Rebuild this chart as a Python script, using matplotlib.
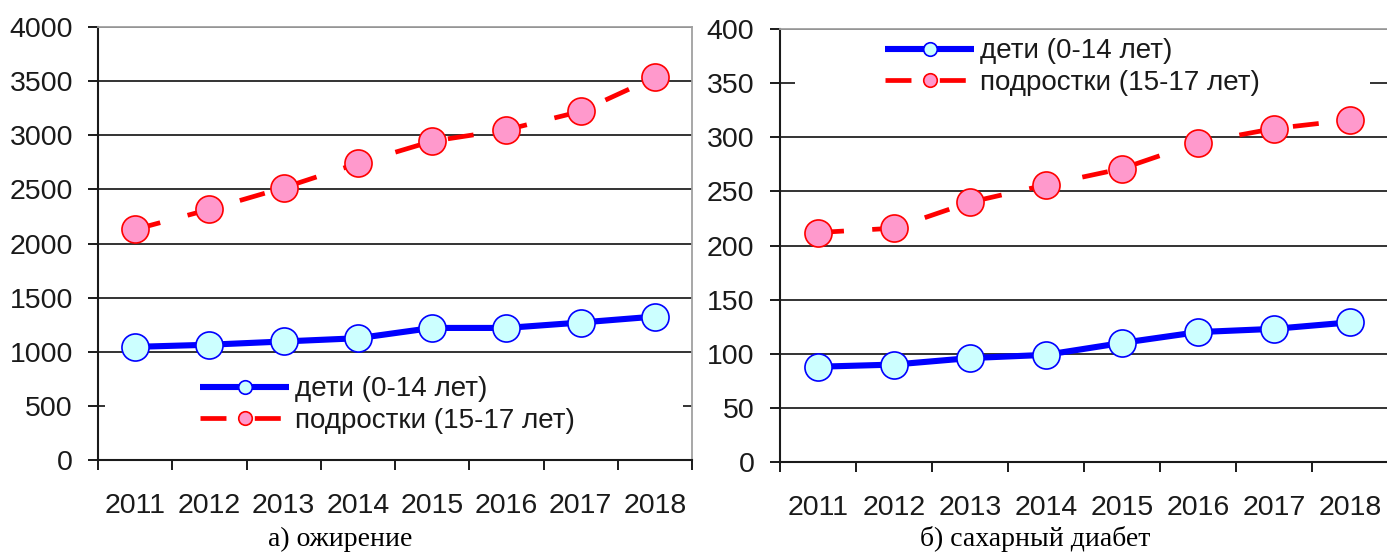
import matplotlib
matplotlib.use("Agg")
import matplotlib.pyplot as plt
from matplotlib.patches import Rectangle

plt.rcParams['font.family'] = ['Liberation Sans', 'DejaVu Sans']

years = [2011, 2012, 2013, 2014, 2015, 2016, 2017, 2018]

# а) ожирение
obesity_children = [1045, 1065, 1095, 1125, 1220, 1220, 1270, 1325]
obesity_teens = [2130, 2315, 2515, 2740, 2945, 3050, 3220, 3535]

# б) сахарный диабет
diabetes_children = [88, 90, 96, 99, 110, 120, 123, 129]
diabetes_teens = [212, 216, 240, 256, 271, 295, 308, 316]

label_children = "дети (0-14 лет)"
label_teens = "подростки (15-17 лет)"
captions = ["а) ожирение", "б) сахарный диабет"]

W, H = 1387, 554
fig = plt.figure(figsize=(W / 100, H / 100), dpi=100)

ax1 = fig.add_axes([98 / W, 1 - 460 / H, (692 - 98) / W, (460 - 27) / H])
ax2 = fig.add_axes([780 / W, 1 - 462 / H, 608 / W, (462 - 29) / H])


def draw(ax, children, teens, ymax, ystep, leg_xy, cover, ylab_pad):
    x = list(range(len(years)))
    ax.plot(x, children, color='#0000ff', lw=4.4, marker='o', ms=19.5,
            mfc='#ccffff', mec='#0000ff', mew=1.2, label=label_children,
            zorder=3, solid_capstyle='butt')
    ln, = ax.plot(x, teens, color='#ff0000', lw=3.4, marker='o', ms=19.5,
                  mfc='#ff99cc', mec='#ff0000', mew=1.2, label=label_teens,
                  zorder=4, dash_capstyle='butt')
    ln.set_dashes([5.5, 6.0])

    ax.set_xlim(-0.5, len(years) - 0.5)
    ax.set_ylim(0, ymax)
    ax.set_yticks(range(0, ymax + 1, ystep))
    ax.yaxis.grid(True, color='#111111', lw=1.2)
    ax.set_axisbelow(True)

    # boundary ticks (Excel style) + labels in category centres
    ax.set_xticks([i - 0.5 for i in range(len(years) + 1)])
    ax.set_xticklabels([])
    ax.set_xticks(x, minor=True)
    ax.set_xticklabels([str(y) for y in years], minor=True)
    ax.tick_params(axis='x', which='major', direction='out', length=7.5,
                   width=1.4, color='#1a1a1a')
    ax.tick_params(axis='x', which='minor', length=0, pad=24, labelsize=20.5,
                   labelcolor='#1a1a1a')
    ax.tick_params(axis='y', direction='out', length=7.5, width=1.4,
                   color='#1a1a1a', pad=ylab_pad, labelsize=20.5,
                   labelcolor='#1a1a1a')

    for s in ['left', 'bottom']:
        ax.spines[s].set_color('#1a1a1a')
        ax.spines[s].set_linewidth(1.5)
    for s in ['top', 'right']:
        ax.spines[s].set_color('#a0a0a0')
        ax.spines[s].set_linewidth(1.3)

    # white legend area hides the gridline behind it
    ax.add_patch(Rectangle((cover[0], cover[2]), cover[1] - cover[0],
                           cover[3] - cover[2], transform=ax.transAxes,
                           facecolor='white', edgecolor='none', zorder=1))

    leg = ax.legend(loc='center left', bbox_to_anchor=leg_xy, frameon=False,
                    fontsize=20, borderpad=0, borderaxespad=0,
                    handlelength=3.2, handletextpad=0.2, labelspacing=0.2,
                    markerscale=0.5)
    for t in leg.get_texts():
        t.set_color('#1a1a1a')


draw(ax1, obesity_children, obesity_teens, 4000, 500, (0.172, 0.127),
     (0.012, 0.985, 0.105, 0.145), 10.5)
draw(ax2, diabetes_children, diabetes_teens, 400, 50, (0.173, 0.912),
     (0.025, 0.97, 0.86, 0.89), 11)

fig.text(340 / W, 1 - 546 / H, captions[0], ha='center', va='baseline',
         fontsize=20, family='Liberation Serif')
fig.text(1035 / W, 1 - 546 / H, captions[1], ha='center', va='baseline',
         fontsize=20, family='Liberation Serif')

fig.savefig("out.png", dpi=100)
